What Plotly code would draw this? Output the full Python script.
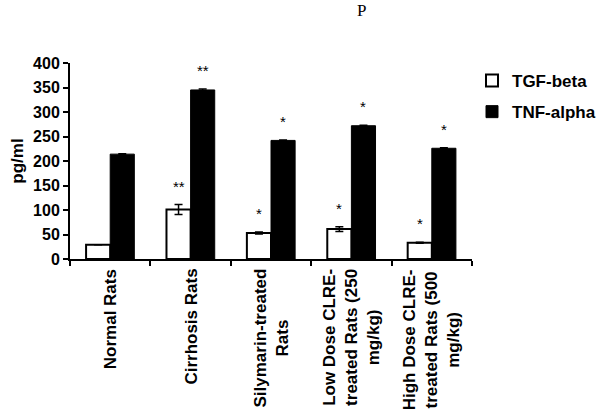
import plotly.graph_objects as go

# groups on the x axis (line breaks as in the original figure)
groups = [
    "Normal Rats",
    "Cirrhosis Rats",
    "Silymarin-treated<br>Rats",
    "Low Dose CLRE-<br>treated Rats (250<br>mg/kg)",
    "High Dose CLRE-<br>treated Rats (500<br>mg/kg)",
]

tgf_beta = [29, 101, 53, 61, 33]
tgf_beta_err = [0, 10, 2, 5, 1]
tgf_beta_sig = ["", "**", "*", "*", "*"]

tnf_alpha = [214, 345, 242, 272, 226]
tnf_alpha_err = [1, 2, 1, 1, 1]
tnf_alpha_sig = ["", "**", "*", "*", "*"]

font = "Liberation Sans, Arial, sans-serif"

fig = go.Figure()

fig.add_trace(go.Bar(
    name="<b>TGF-beta</b>", x=groups, y=tgf_beta, legendgroup="a",
    marker=dict(color="white", line=dict(color="black", width=2)),
    error_y=dict(type="data", array=tgf_beta_err, color="black", thickness=1.5, width=4),
))
fig.add_trace(go.Bar(
    name="<b>TNF-alpha</b>", x=groups, y=tnf_alpha, legendgroup="b",
    marker=dict(color="black", line=dict(color="black", width=1)),
    error_y=dict(type="data", array=tnf_alpha_err, color="black", thickness=1.5, width=4),
))

# significance stars above each bar
for g, v, e, s in zip(groups, tgf_beta, tgf_beta_err, tgf_beta_sig):
    if s:
        fig.add_annotation(x=g, y=v + e, text=s, showarrow=False, xshift=-12,
                           yanchor="bottom", yshift=8, font=dict(size=15, color="black"))
for g, v, e, s in zip(groups, tnf_alpha, tnf_alpha_err, tnf_alpha_sig):
    if s:
        fig.add_annotation(x=g, y=v + e, text=s, showarrow=False, xshift=12,
                           yanchor="bottom", yshift=8, font=dict(size=15, color="black"))

# category labels, rotated, lines centred like the original
for g in groups:
    fig.add_annotation(x=g, y=0, xref="x", yref="y", text="<b>" + g + "</b>",
                       showarrow=False, textangle=-90, align="center",
                       xanchor="center", yanchor="top", yshift=-8,
                       font=dict(size=17, family=font, color="black"))

# stray letter at the top of the figure
fig.add_annotation(x=(361 - 70) / 402, y=(259 - 11) / 196, xref="paper", yref="paper",
                   text="P", showarrow=False, xanchor="center", yanchor="middle",
                   font=dict(family="Liberation Serif, Times New Roman, serif", size=17, color="black"))

fig.update_layout(
    width=600, height=417,
    margin=dict(l=70, r=128, t=63, b=158, autoexpand=False),
    plot_bgcolor="white", paper_bgcolor="white",
    barmode="group", bargap=0.4, bargroupgap=0,
    font=dict(family=font, size=16, color="black"),
    showlegend=True,
    legend=dict(x=1.0, y=1.0, xanchor="left", yanchor="top",
                font=dict(size=17), tracegroupgap=6, itemwidth=30),
)

fig.update_xaxes(
    showline=True, linecolor="black", linewidth=2,
    ticks="outside", tickson="boundaries", ticklen=5, tickwidth=2, tickcolor="black",
    showticklabels=False, automargin=False,
    showgrid=False,
)
fig.update_yaxes(
    range=[0, 400], dtick=50,
    showline=True, linecolor="black", linewidth=2,
    ticks="outside", ticklen=5, tickwidth=2, tickcolor="black",
    tickprefix="<b>", ticksuffix="</b>",
    showgrid=False, zeroline=False, automargin=False,
    title=dict(text="<b>pg/ml</b>", font=dict(size=17), standoff=5),
)

# drop the browser's default page margin so the figure sits at the window corner
fig.write_html("out.html", config={"displayModeBar": False},
               post_script="document.body.style.margin = '0';")
